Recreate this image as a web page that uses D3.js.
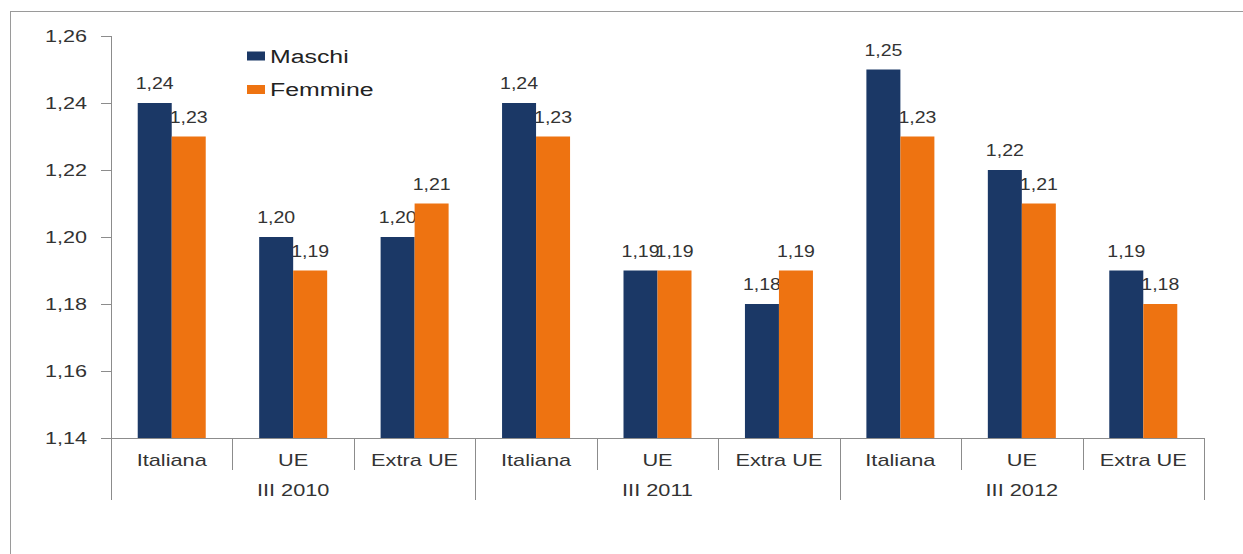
<!DOCTYPE html>
<html><head><meta charset="utf-8">
<script src="https://cdn.jsdelivr.net/npm/d3@7"></script>
<style>body{margin:0;background:#fff;}svg{display:block;font-family:"Liberation Sans",Arial,sans-serif;}</style>
</head><body>
<svg id="c" width="1243" height="554"></svg>
<script>
const periods = ["III 2010", "III 2011", "III 2012"];
const categories = ["Italiana", "UE", "Extra UE"];
const seriesNames = ["Maschi", "Femmine"];
const maschi = [1.24, 1.20, 1.20, 1.24, 1.19, 1.18, 1.25, 1.22, 1.19];
const femmine = [1.23, 1.19, 1.21, 1.23, 1.19, 1.19, 1.23, 1.21, 1.18];
const yTicks = [1.14, 1.16, 1.18, 1.20, 1.22, 1.24, 1.26];
const colors = ["#1B3866", "#EE7311"];

const svg = d3.select("#c");
const fmt = v => d3.format(".2f")(v).replace(".", ",");
const SX = 1.3;

function label(x, y, txt, size, anchor, fill, sx) {
  svg.append("text")
    .attr("transform", `translate(${x},${y}) scale(${sx || SX},1)`)
    .attr("text-anchor", anchor || "middle")
    .attr("font-size", size).attr("fill", fill || "#333").text(txt);
}

// frame
svg.append("line").attr("x1",10).attr("x2",1243).attr("y1",11.5).attr("y2",11.5).attr("stroke","#9a9a9a");
svg.append("line").attr("x1",10.5).attr("x2",10.5).attr("y1",11).attr("y2",554).attr("stroke","#9a9a9a");

const x0 = 111, x1 = 1204, yTop = 36, yBot = 438;
const keys = [];
periods.forEach(p => categories.forEach(c => keys.push(p + "|" + c)));
const x = d3.scaleBand().domain(keys).range([x0, x1]).paddingInner(0).paddingOuter(0);
const y = d3.scaleLinear().domain([1.14, 1.26]).range([yBot, yTop]);
const barW = 34;
const xs = d3.scaleBand().domain(seriesNames).range([0, barW*2]);

// y axis
const ya = svg.append("g").attr("transform", `translate(${x0},0)`)
  .call(d3.axisLeft(y).tickValues(yTicks).tickFormat(fmt).tickSize(10));
ya.select(".domain").attr("stroke","#8c8c8c").attr("d", `M0.5,${yTop}V${yBot}`);
ya.selectAll(".tick line").attr("stroke","#8c8c8c");
ya.selectAll(".tick text").attr("font-size",16).attr("fill","#333")
  .attr("font-family","Liberation Sans, Arial, sans-serif")
  .attr("x", -24/1.35).attr("transform","scale(1.35,1)");

// x axis line
svg.append("line").attr("x1",x0).attr("x2",x1).attr("y1",yBot+0.5).attr("y2",yBot+0.5).attr("stroke","#8c8c8c");

// separators
keys.forEach((k,i) => {
  const xx = Math.round(x(k) + x.bandwidth()) + 0.5;
  const big = (i % 3 === 2);
  svg.append("line").attr("x1",xx).attr("x2",xx).attr("y1",yBot).attr("y2", big ? 500 : 470).attr("stroke","#8c8c8c");
});
svg.append("line").attr("x1",x0+0.5).attr("x2",x0+0.5).attr("y1",yBot).attr("y2",500).attr("stroke","#8c8c8c");

// category labels
keys.forEach(k => label(x(k)+x.bandwidth()/2, 466, k.split("|")[1], 16, "middle", "#333", 1.36));
periods.forEach(p => {
  const a = x(p+"|"+categories[0]), b = x(p+"|"+categories[2]) + x.bandwidth();
  label((a+b)/2, 496, p, 16, "middle", "#333", 1.36);
});

const data = keys.map((k,i) => ({k, vals: [maschi[i], femmine[i]]}));

// value labels (drawn beneath bars, as in reference)
data.forEach(d => {
  const off = x(d.k) + (x.bandwidth() - barW*2)/2;
  d.vals.forEach((v,j) => label(off + xs(seriesNames[j]) + barW/2, y(v) - 14, fmt(v), 16, "middle", "#333", 1.22));
});
// bars
data.forEach(d => {
  const off = x(d.k) + (x.bandwidth() - barW*2)/2;
  d.vals.forEach((v,j) => {
    svg.append("rect").attr("x", off + xs(seriesNames[j])).attr("y", y(v))
      .attr("width", barW).attr("height", yBot - y(v)).attr("fill", colors[j]);
  });
});

// legend
seriesNames.forEach((s,i) => {
  const ly = 56 + i*33.5;
  svg.append("rect").attr("x",247).attr("y",ly-4.5).attr("width",18).attr("height",9).attr("fill",colors[i]);
  label(270, ly+6.5, s, 18, "start", "#222", 1.38);
});
</script>
</body></html>
